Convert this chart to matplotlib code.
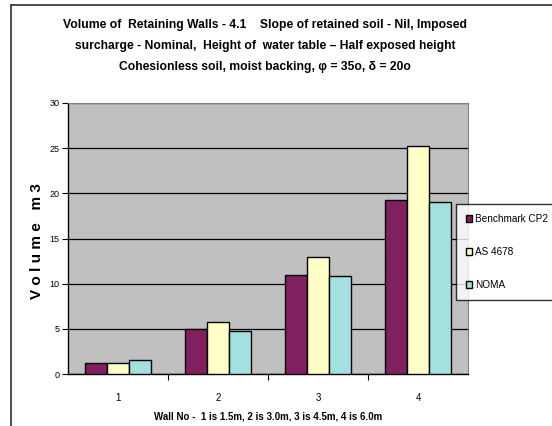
import numpy as np
import matplotlib
matplotlib.use("Agg")
from matplotlib import pyplot as plt
from matplotlib.lines import Line2D

plt.rcParams['font.family'] = ['Liberation Sans', 'DejaVu Sans']

# Wall volumes (m3) for each design method
walls = ["1", "2", "3", "4"]
benchmark = [1.2, 5.0, 11.0, 19.3]
as4678 = [1.2, 5.8, 13.0, 25.2]
noma = [1.5, 4.8, 10.8, 19.0]
series_names = ["Benchmark CP2", "AS 4678", "NOMA"]
series_colors = ["#802060", "#FFFFC8", "#A3E0E0"]
yticks = [0, 5, 10, 15, 20, 25, 30]

title = ("Volume of  Retaining Walls - 4.1    Slope of retained soil - Nil, Imposed\n"
         "surcharge - Nominal,  Height of  water table \u2013 Half exposed height\n"
         "Cohesionless soil, moist backing, \u03c6 = 35o, \u03b4 = 20o")

W, H = 552, 426
fig = plt.figure(figsize=(W / 100, H / 100), dpi=100)
ax = fig.add_axes([68 / W, 1 - 374 / H, 400 / W, 271 / H])
ax.set_facecolor("#C0C0C0")

x = np.arange(len(walls))
bw = 0.223
for k, (vals, name, col) in enumerate(zip([benchmark, as4678, noma], series_names, series_colors)):
    ax.bar(x + (k - 1) * bw, vals, bw, color=col, edgecolor="black", linewidth=1.0,
           label=name, zorder=3)

ax.set_xlim(-0.5, len(walls) - 0.5)
ax.set_ylim(0, 30)
ax.set_yticks(yticks)
ax.set_yticklabels([str(t) for t in yticks], fontsize=6.5)
ax.yaxis.grid(True, color="black", linewidth=0.9, zorder=1)
ax.set_axisbelow(True)

ax.set_xticks(x)
ax.set_xticklabels(walls, fontsize=7)
ax.tick_params(axis="x", which="major", length=0, pad=14)
ax.set_xticks(np.arange(0.5, len(walls) - 0.5, 1), minor=True)
ax.tick_params(axis="x", which="minor", length=4, direction="out", width=0.8)
ax.tick_params(axis="y", length=4, width=0.8, pad=2)

for s in ["top", "right"]:
    ax.spines[s].set_color("#808080")
for s in ["left", "bottom"]:
    ax.spines[s].set_color("black")
    ax.spines[s].set_linewidth(1.0)

ax.set_xlabel("Wall No -  1 is 1.5m, 2 is 3.0m, 3 is 4.5m, 4 is 6.0m",
              fontsize=7, fontweight="bold", labelpad=6)
fig.text(37 / W, 1 - 241 / H, "V o l u m e   m 3", rotation=90, ha="center", va="center",
         fontsize=11, fontweight="bold")

fig.text(265 / W, 1 - 46 / H, title, ha="center", va="center", fontsize=8.7,
         fontweight="bold", linespacing=1.95)

leg = fig.legend(loc="upper left", bbox_to_anchor=(456 / W, 1 - 204 / H), borderaxespad=0,
                 fontsize=7.2, frameon=True, fancybox=False, edgecolor="black",
                 handlelength=0.6, handleheight=0.8, handletextpad=0.3,
                 labelspacing=2.3, borderpad=1.0)
leg.get_frame().set_linewidth(1.0)

# outer chart frame
fig.add_artist(Line2D([11 / W, 11 / W], [0, 1 - 5 / H], color="#404040", linewidth=1.3))
fig.add_artist(Line2D([11 / W, 1], [1 - 5 / H, 1 - 5 / H], color="#404040", linewidth=1.3))

fig.savefig("out.png", dpi=100)
